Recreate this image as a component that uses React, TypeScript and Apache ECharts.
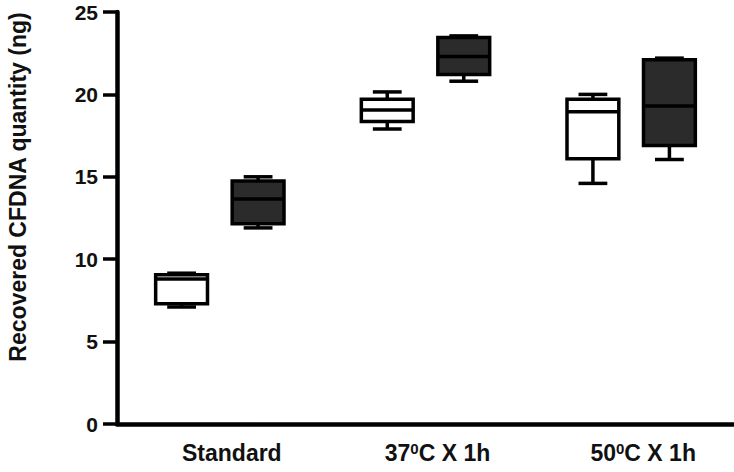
import React, { useEffect, useRef } from "react";
import * as echarts from "echarts";

// ---- data ----
const categories = ["Standard", "37{sup|0}C X 1h", "50{sup|0}C X 1h"];
const yTicks = [0, 5, 10, 15, 20, 25];
// [min, Q1, median, Q3, max]
const whiteBoxes = [
  [7.1, 7.3, 8.8, 9.05, 9.15],
  [17.9, 18.35, 19.05, 19.7, 20.15],
  [14.6, 16.1, 18.95, 19.7, 20.0],
];
const darkBoxes = [
  [11.9, 12.15, 13.65, 14.75, 15.0],
  [20.8, 21.2, 22.3, 23.45, 23.55],
  [16.05, 16.9, 19.3, 22.1, 22.2],
];
const yTitle = "Recovered CFDNA quantity (ng)";

const FONT = "'Liberation Sans', Arial, Helvetica, sans-serif";

function makeRender(offsetFrac: number, fill: string) {
  return function (params: any, api: any) {
    const idx = api.value(0);
    const band = api.size([1, 0])[0];
    const cx = api.coord([idx, 0])[0] + offsetFrac * band;
    const yMin = api.coord([idx, api.value(1)])[1];
    const yQ1 = api.coord([idx, api.value(2)])[1];
    const yMed = api.coord([idx, api.value(3)])[1];
    const yQ3 = api.coord([idx, api.value(4)])[1];
    const yMax = api.coord([idx, api.value(5)])[1];
    const hw = band * 0.126;
    const cw = band * 0.07;
    const ls = { stroke: "#000", lineWidth: 3.5 };
    return {
      type: "group",
      children: [
        { type: "line", shape: { x1: cx, y1: yMax, x2: cx, y2: yQ3 }, style: ls },
        { type: "line", shape: { x1: cx, y1: yQ1, x2: cx, y2: yMin }, style: ls },
        { type: "line", shape: { x1: cx - cw, y1: yMax, x2: cx + cw, y2: yMax }, style: ls },
        { type: "line", shape: { x1: cx - cw, y1: yMin, x2: cx + cw, y2: yMin }, style: ls },
        {
          type: "rect",
          shape: { x: cx - hw, y: yQ3, width: 2 * hw, height: yQ1 - yQ3 },
          style: { fill, stroke: "#000", lineWidth: 3.5 },
        },
        { type: "line", shape: { x1: cx - hw, y1: yMed, x2: cx + hw, y2: yMed }, style: ls },
      ],
    };
  };
}

export default function App() {
  const ref = useRef<HTMLDivElement>(null);
  useEffect(() => {
    if (!ref.current) return;
    const chart = echarts.init(ref.current, null, { renderer: "svg" });
    const toData = (arr: number[][]) => arr.map((b, i) => [i, ...b]);
    chart.setOption({
      animation: false,
      backgroundColor: "#fff",
      grid: { left: 117, right: 0, top: 12, bottom: 48 },
      xAxis: {
        type: "category",
        data: categories,
        axisLine: { lineStyle: { color: "#000", width: 4.5 } },
        axisTick: { show: false },
        axisLabel: {
          interval: 0,
          hideOverlap: false,
          margin: 17,
          padding: [0, 0, 0, 24],
          color: "#111",
          fontFamily: FONT,
          fontWeight: "bold",
          fontSize: 23,
          rich: {
            sup: {
              fontFamily: FONT,
              fontWeight: "bold",
              fontSize: 15,
              color: "#111",
              verticalAlign: "top",
              lineHeight: 15,
              padding: [0, 0, 8, 0],
            },
          },
        },
      },
      yAxis: {
        type: "value",
        min: yTicks[0],
        max: yTicks[yTicks.length - 1],
        interval: 5,
        splitLine: { show: false },
        axisLine: { show: true, lineStyle: { color: "#000", width: 4.5 } },
        axisTick: { show: true, length: 14, lineStyle: { color: "#000", width: 3.5 } },
        axisLabel: {
          margin: 19,
          color: "#111",
          fontFamily: FONT,
          fontWeight: "bold",
          fontSize: 21,
        },
      },
      graphic: [
        {
          type: "text",
          x: 18,
          y: 187,
          rotation: Math.PI / 2,
          style: {
            text: yTitle,
            fontFamily: FONT,
            fontWeight: "bold",
            fontSize: 23,
            fill: "#111",
            align: "center",
            verticalAlign: "middle",
          },
        },
      ],
      series: [
        {
          name: "White",
          type: "custom",
          renderItem: makeRender(-0.186, "#ffffff"),
          encode: { x: 0, y: [1, 2, 3, 4, 5] },
          data: toData(whiteBoxes),
        },
        {
          name: "Dark",
          type: "custom",
          renderItem: makeRender(0.186, "#2b2b2b"),
          encode: { x: 0, y: [1, 2, 3, 4, 5] },
          data: toData(darkBoxes),
        },
      ],
    });
    return () => chart.dispose();
  }, []);
  return <div ref={ref} style={{ width: 734, height: 472, position: "absolute", left: 0, top: 0 }} />;
}
